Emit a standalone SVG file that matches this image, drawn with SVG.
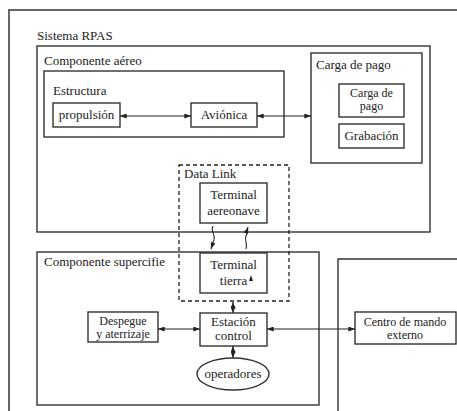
<svg xmlns="http://www.w3.org/2000/svg" width="457" height="411" viewBox="0 0 457 411" font-family="'Liberation Serif', 'Times New Roman', serif">
<defs>
<style>
text{font-size:13px;fill:#222}
.c{text-anchor:middle}
.s{font-size:12px}
.box{fill:none;stroke:#333;stroke-width:1.4}
.frame{fill:none;stroke:#666;stroke-width:2}
.dash{fill:none;stroke:#222;stroke-width:1.3;stroke-dasharray:4 3}
.ln{fill:none;stroke:#222;stroke-width:1.1}
</style>
<marker id="ah" viewBox="0 0 8 6" refX="8" refY="3" markerWidth="7" markerHeight="5" markerUnits="userSpaceOnUse" orient="auto-start-reverse">
<path d="M0,0 L8,3 L0,6 Z" fill="#222"/>
</marker>
</defs>
<rect width="457" height="411" fill="#fff"/>
<g id="sistema">
<path class="frame" d="M9,411 V10 H457"/>
<text x="37" y="40">Sistema RPAS</text>
</g>
<g id="componente-aereo">
<rect class="box" x="37" y="46" width="393" height="186"/>
<text x="44" y="65">Componente aéreo</text>
</g>
<g id="estructura">
<rect class="box" x="44" y="71" width="240" height="66"/>
<text x="53" y="95">Estructura</text>
</g>
<g id="propulsion">
<rect class="box" x="53" y="103" width="67" height="24"/>
<text class="c" x="86.5" y="119">propulsión</text>
</g>
<g id="avionica">
<rect class="box" x="191" y="103" width="66" height="24"/>
<text class="c" x="224" y="119">Aviónica</text>
</g>
<g id="carga-de-pago-group">
<rect class="box" x="311" y="53" width="111" height="110"/>
<text x="316" y="69">Carga de pago</text>
</g>
<g id="carga-de-pago">
<rect class="box" x="339" y="84" width="65" height="33"/>
<text class="c s" x="371.5" y="97">Carga de</text>
<text class="c s" x="371.5" y="110">pago</text>
</g>
<g id="grabacion">
<rect class="box" x="339" y="124" width="65" height="24"/>
<text class="c" x="371.5" y="140">Grabación</text>
</g>
<g id="componente-superficie">
<rect class="box" x="37" y="252" width="282" height="153"/>
<text x="44" y="266">Componente supercifie</text>
</g>
<g id="externo-group">
<path class="box" d="M457,259 H338 V411"/>
</g>
<g id="data-link">
<rect class="dash" x="179" y="165" width="110" height="136"/>
<text x="184" y="178">Data Link</text>
</g>
<g id="terminal-aeronave">
<rect class="box" x="200" y="183" width="67" height="40"/>
<text class="c" x="233.5" y="199">Terminal</text>
<text class="c" x="233.5" y="215">aereonave</text>
</g>
<g id="terminal-tierra">
<rect class="box" x="200" y="253" width="67" height="40"/>
<text class="c" x="233.5" y="269">Terminal</text>
<text class="c" x="233.5" y="285">tierra</text>
</g>
<g id="despegue">
<rect class="box" x="88" y="312" width="70" height="30"/>
<text class="c s" x="123" y="325">Despegue</text>
<text class="c s" x="123" y="338">y aterrizaje</text>
</g>
<g id="estacion">
<rect class="box" x="200" y="313" width="67" height="33"/>
<text class="c" x="233.5" y="326">Estación</text>
<text class="c" x="233.5" y="340">control</text>
</g>
<g id="centro-mando">
<rect class="box" x="355" y="312" width="101" height="32"/>
<text class="c s" x="405" y="326">Centro de mando</text>
<text class="c s" x="405" y="339">externo</text>
</g>
<g id="operadores">
<ellipse class="box" cx="233" cy="374" rx="36" ry="16"/>
<text class="c" x="233" y="378">operadores</text>
</g>
<g id="connectors">
<line class="ln" x1="120" y1="116" x2="191" y2="116" marker-start="url(#ah)" marker-end="url(#ah)"/>
<line class="ln" x1="257" y1="116" x2="311" y2="116" marker-start="url(#ah)" marker-end="url(#ah)"/>
<line class="ln" x1="158" y1="329" x2="200" y2="329" marker-start="url(#ah)" marker-end="url(#ah)"/>
<line class="ln" x1="267" y1="329" x2="355" y2="329" marker-start="url(#ah)" marker-end="url(#ah)"/>
<line class="ln" x1="233" y1="302" x2="233" y2="313" marker-start="url(#ah)" marker-end="url(#ah)"/>
<line class="ln" x1="233" y1="346" x2="233" y2="358" marker-start="url(#ah)" marker-end="url(#ah)"/>
<path class="ln" d="M213,226 C210,231 216,235 214,240 C212,244 212,246 211,249" marker-end="url(#ah)"/>
<path class="ln" d="M246,249 C248,244 244,240 246,236 C248,232 247,230 248,227" marker-end="url(#ah)"/>
<path d="M249,281 L251,275 L253,281 Z" fill="#222"/>
</g>
</svg>
